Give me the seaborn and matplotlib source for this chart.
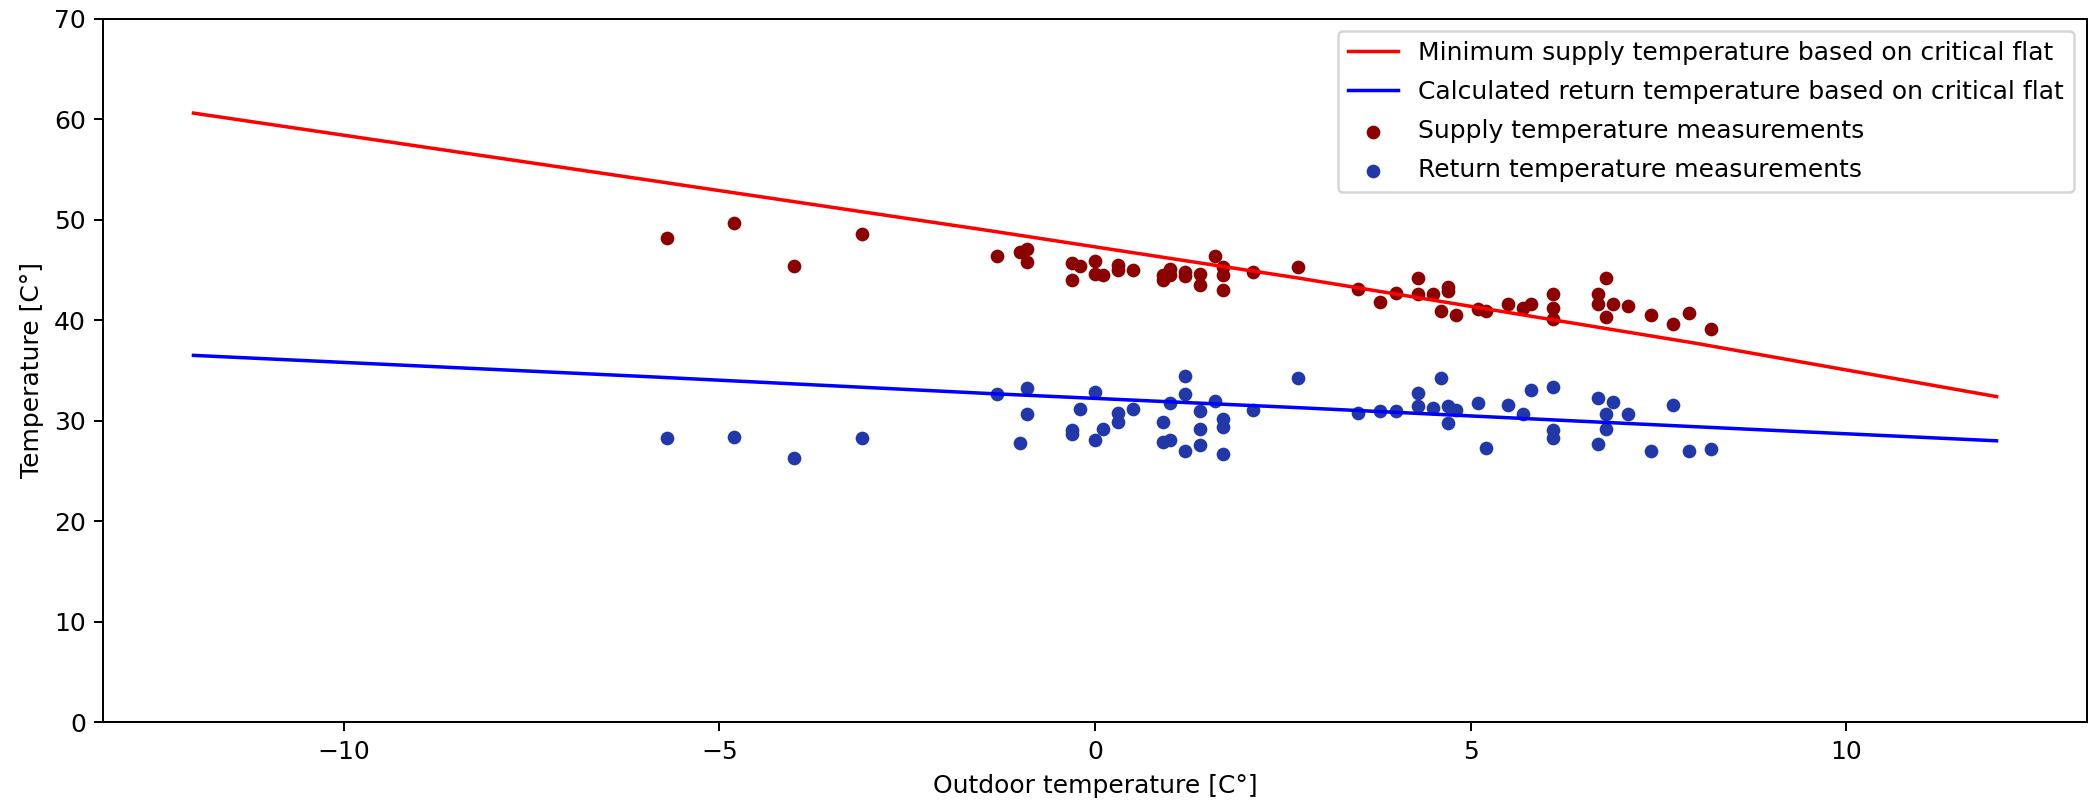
import matplotlib
matplotlib.use("Agg")
import matplotlib.pyplot as plt
import seaborn as sns

# Line readings (outdoor temperature -> temperature)
line_x = [-12, -6, -1.4, 2.7, 8, 12]
supply_line = [60.6, 54.0, 48.9, 44.2, 37.7, 32.4]
return_line = [36.5, 34.4, 32.7, 31.3, 29.4, 28.0]

# Measurements
supply_x = [-5.7, -4.8, -4.0, -3.1, -1.3, -1.0, -0.9, -0.9, -0.3, -0.2,
            -0.3, 0.0, 0.0, 0.1, 0.3, 0.3, 0.5, 0.9, 0.9, 1.0,
            1.0, 1.2, 1.2, 1.4, 1.4, 1.6, 1.7, 1.7, 1.7, 2.1,
            2.7, 3.5, 3.8, 4.0, 4.3, 4.3, 4.5, 4.7, 4.7, 4.6,
            4.8, 5.1, 5.2, 5.5, 5.7, 5.8, 6.1, 6.1, 6.1, 6.7,
            6.7, 6.8, 6.8, 6.9, 7.1, 7.4, 7.7, 7.9, 8.2]
supply_t = [48.2, 49.7, 45.4, 48.6, 46.4, 46.8, 47.1, 45.8, 45.7, 45.4,
            44.0, 45.9, 44.6, 44.5, 45.5, 45.0, 45.0, 44.0, 44.5, 45.1,
            44.5, 44.8, 44.4, 44.6, 43.5, 46.4, 45.3, 44.5, 43.0, 44.8,
            45.3, 43.1, 41.8, 42.7, 44.2, 42.6, 42.6, 43.3, 42.9, 40.9,
            40.5, 41.1, 40.9, 41.6, 41.2, 41.6, 42.6, 41.2, 40.1, 42.6,
            41.6, 44.2, 40.3, 41.6, 41.4, 40.5, 39.6, 40.7, 39.1]

return_x = [-5.7, -4.8, -4.0, -3.1, -1.3, -0.9, -0.9, -1.0, -0.3, -0.3,
            -0.2, 0.0, 0.0, 0.1, 0.3, 0.3, 0.5, 0.9, 0.9, 1.0,
            1.0, 1.2, 1.2, 1.2, 1.4, 1.4, 1.4, 1.6, 1.7, 1.7,
            1.7, 2.1, 2.7, 3.5, 3.8, 4.0, 4.3, 4.3, 4.5, 4.6,
            4.7, 4.7, 4.8, 5.1, 5.2, 5.5, 5.7, 5.8, 6.1, 6.1,
            6.1, 6.7, 6.7, 6.8, 6.8, 6.9, 7.1, 7.4, 7.7, 7.9, 8.2]
return_t = [28.3, 28.4, 26.3, 28.3, 32.7, 33.3, 30.7, 27.8, 29.1, 28.7,
            31.2, 32.9, 28.1, 29.2, 30.8, 29.9, 31.2, 29.9, 27.9, 28.1,
            31.8, 34.4, 32.7, 27.0, 31.0, 29.2, 27.6, 32.0, 30.2, 29.4,
            26.7, 31.1, 34.2, 30.8, 31.0, 31.0, 32.8, 31.5, 31.3, 34.2,
            31.5, 29.8, 31.1, 31.8, 27.3, 31.6, 30.7, 33.1, 33.4, 29.1,
            28.3, 32.3, 27.7, 30.7, 29.2, 31.9, 30.7, 27.0, 31.6, 27.0, 27.2]

labels = ["Minimum supply temperature based on critical flat",
          "Calculated return temperature based on critical flat",
          "Supply temperature measurements",
          "Return temperature measurements"]

DPI = 180
fig = plt.figure(figsize=(2089 / DPI, 802 / DPI), dpi=DPI)
ax = fig.add_axes([103.3 / 2089, 1 - 722.3 / 802,
                   (2086.7 - 103.3) / 2089, (722.3 - 18.6) / 802])

sns.lineplot(x=line_x, y=supply_line, color="red", linewidth=1.4,
             label=labels[0], ax=ax)
sns.lineplot(x=line_x, y=return_line, color="blue", linewidth=1.4,
             label=labels[1], ax=ax)
sns.scatterplot(x=supply_x, y=supply_t, color="#8b0000", s=30, linewidth=0,
                label=labels[2], ax=ax)
sns.scatterplot(x=return_x, y=return_t, color="#2238a8", s=30, linewidth=0,
                label=labels[3], ax=ax)

ax.set_ylim(0, 70)
ax.set_xlabel("Outdoor temperature [C°]")
ax.set_ylabel("Temperature [C°]")
ax.legend(loc="upper right", labelspacing=0.6)

fig.savefig("out.png", dpi=DPI)
